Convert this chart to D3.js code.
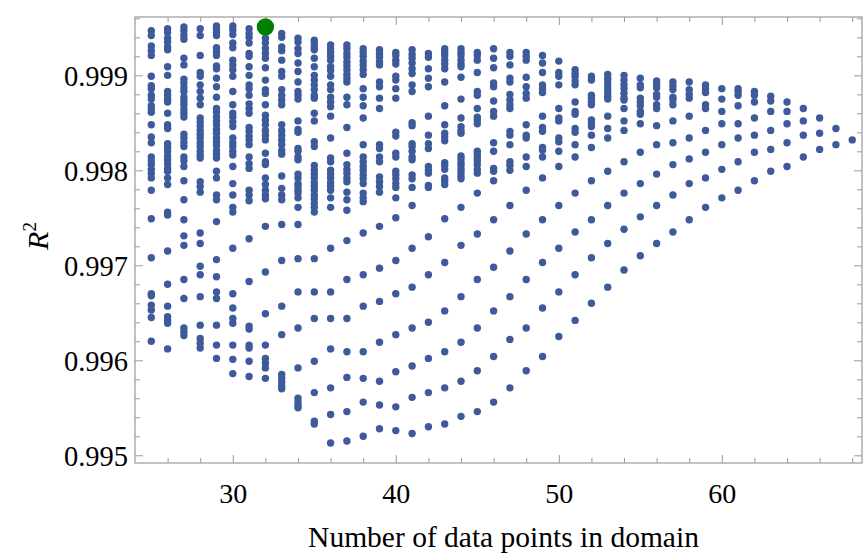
<!DOCTYPE html>
<html>
<head>
<meta charset="utf-8">
<script src="https://cdn.jsdelivr.net/npm/d3@7"></script>
<style>
  body { margin: 0; background: #fff; }
  svg { display: block; }
  .tick text { font-family: "Liberation Serif", "Times New Roman", serif; }
</style>
</head>
<body>
<div id="chart"></div>
<script>
// constants
const w = 863,
      h = 556,
      xLeft = 135,
      xRight = 862,
      yTop = 17,
      yBottom = 463;

// data: number of data points in domain, and the R^2 values found for each
const nValues = [25, 26, 27, 28, 29, 30, 31, 32, 33, 34, 35, 36, 37, 38, 39, 40, 41, 42, 43, 44, 45, 46,
                 47, 48, 49, 50, 51, 52, 53, 54, 55, 56, 57, 58, 59, 60, 61, 62, 63, 64, 65, 66, 67, 68];

const r2Columns = [
  [0.99947,0.99942,0.99931,0.99926,0.99921,0.99899,0.99889,0.99886,0.99879,0.99875,0.99868,0.99864,0.99861,0.99848,0.99835,0.99829,0.99814,0.99810,0.99806,0.99801,0.99797,0.99792,0.99779,0.99749,0.99708,0.99670,0.99668,0.99658,0.99653,0.99645,0.99620],
  [0.99949,0.99945,0.99939,0.99935,0.99930,0.99927,0.99909,0.99900,0.99883,0.99879,0.99875,0.99872,0.99860,0.99848,0.99844,0.99828,0.99824,0.99820,0.99815,0.99811,0.99807,0.99802,0.99799,0.99792,0.99785,0.99756,0.99753,0.99715,0.99680,0.99657,0.99646,0.99642,0.99639,0.99612],
  [0.99951,0.99947,0.99942,0.99938,0.99918,0.99911,0.99896,0.99892,0.99887,0.99883,0.99877,0.99873,0.99869,0.99864,0.99860,0.99856,0.99838,0.99834,0.99829,0.99825,0.99814,0.99810,0.99804,0.99789,0.99769,0.99748,0.99731,0.99721,0.99685,0.99665,0.99634,0.99630,0.99626],
  [0.99949,0.99942,0.99921,0.99903,0.99899,0.99890,0.99883,0.99876,0.99869,0.99855,0.99851,0.99847,0.99842,0.99838,0.99834,0.99829,0.99825,0.99820,0.99816,0.99813,0.99788,0.99783,0.99777,0.99734,0.99723,0.99699,0.99690,0.99667,0.99637,0.99623,0.99618,0.99613],
  [0.99952,0.99949,0.99945,0.99942,0.99929,0.99925,0.99921,0.99910,0.99907,0.99897,0.99888,0.99877,0.99865,0.99861,0.99856,0.99852,0.99848,0.99843,0.99839,0.99834,0.99830,0.99826,0.99821,0.99817,0.99813,0.99799,0.99792,0.99774,0.99769,0.99746,0.99706,0.99688,0.99672,0.99665,0.99637,0.99616,0.99602],
  [0.99952,0.99948,0.99943,0.99934,0.99929,0.99916,0.99911,0.99906,0.99899,0.99883,0.99869,0.99860,0.99856,0.99851,0.99846,0.99834,0.99829,0.99825,0.99820,0.99816,0.99804,0.99786,0.99774,0.99761,0.99756,0.99718,0.99670,0.99655,0.99644,0.99639,0.99616,0.99601,0.99586],
  [0.99949,0.99944,0.99940,0.99934,0.99923,0.99920,0.99909,0.99900,0.99890,0.99886,0.99879,0.99870,0.99865,0.99860,0.99845,0.99841,0.99836,0.99832,0.99827,0.99814,0.99807,0.99802,0.99779,0.99774,0.99768,0.99728,0.99683,0.99636,0.99633,0.99616,0.99613,0.99599,0.99583],
  [0.99939,0.99934,0.99928,0.99923,0.99918,0.99908,0.99895,0.99885,0.99881,0.99869,0.99858,0.99853,0.99848,0.99842,0.99837,0.99832,0.99818,0.99809,0.99806,0.99792,0.99785,0.99779,0.99774,0.99770,0.99741,0.99693,0.99649,0.99616,0.99602,0.99597,0.99592,0.99581],
  [0.99944,0.99940,0.99930,0.99926,0.99916,0.99904,0.99899,0.99885,0.99879,0.99874,0.99869,0.99848,0.99842,0.99837,0.99832,0.99827,0.99821,0.99817,0.99794,0.99781,0.99774,0.99769,0.99743,0.99705,0.99657,0.99627,0.99585,0.99581,0.99577,0.99573,0.99570],
  [0.99939,0.99935,0.99928,0.99923,0.99913,0.99904,0.99893,0.99883,0.99879,0.99875,0.99852,0.99843,0.99840,0.99823,0.99820,0.99814,0.99811,0.99796,0.99792,0.99786,0.99783,0.99779,0.99776,0.99771,0.99761,0.99743,0.99707,0.99672,0.99634,0.99592,0.99560,0.99556,0.99553,0.99550],
  [0.99937,0.99934,0.99930,0.99927,0.99918,0.99909,0.99900,0.99895,0.99890,0.99885,0.99879,0.99876,0.99860,0.99852,0.99830,0.99825,0.99805,0.99800,0.99796,0.99792,0.99787,0.99783,0.99779,0.99774,0.99770,0.99765,0.99761,0.99756,0.99707,0.99672,0.99644,0.99599,0.99566,0.99536,0.99533],
  [0.99932,0.99928,0.99924,0.99920,0.99916,0.99909,0.99905,0.99899,0.99890,0.99885,0.99877,0.99872,0.99867,0.99857,0.99834,0.99813,0.99809,0.99800,0.99796,0.99792,0.99787,0.99783,0.99779,0.99771,0.99761,0.99718,0.99672,0.99644,0.99612,0.99571,0.99543,0.99513],
  [0.99932,0.99928,0.99923,0.99919,0.99914,0.99910,0.99906,0.99901,0.99897,0.99893,0.99877,0.99869,0.99845,0.99818,0.99806,0.99801,0.99797,0.99792,0.99788,0.99777,0.99769,0.99758,0.99726,0.99685,0.99644,0.99609,0.99582,0.99546,0.99515],
  [0.99928,0.99924,0.99920,0.99915,0.99911,0.99906,0.99901,0.99886,0.99877,0.99868,0.99855,0.99827,0.99814,0.99809,0.99804,0.99800,0.99795,0.99791,0.99786,0.99776,0.99771,0.99767,0.99734,0.99690,0.99657,0.99609,0.99581,0.99556,0.99520],
  [0.99927,0.99923,0.99919,0.99914,0.99911,0.99893,0.99888,0.99876,0.99865,0.99827,0.99823,0.99814,0.99809,0.99793,0.99788,0.99783,0.99777,0.99741,0.99697,0.99662,0.99619,0.99578,0.99553,0.99528],
  [0.99924,0.99921,0.99916,0.99912,0.99899,0.99895,0.99886,0.99876,0.99840,0.99836,0.99818,0.99814,0.99799,0.99795,0.99791,0.99786,0.99782,0.99771,0.99750,0.99705,0.99670,0.99627,0.99588,0.99551,0.99526],
  [0.99927,0.99922,0.99918,0.99913,0.99907,0.99902,0.99890,0.99883,0.99850,0.99847,0.99828,0.99825,0.99820,0.99814,0.99811,0.99795,0.99791,0.99782,0.99763,0.99718,0.99677,0.99634,0.99594,0.99561,0.99523],
  [0.99923,0.99919,0.99907,0.99897,0.99888,0.99857,0.99837,0.99828,0.99823,0.99804,0.99800,0.99797,0.99784,0.99782,0.99730,0.99690,0.99640,0.99602,0.99566,0.99530],
  [0.99928,0.99924,0.99921,0.99916,0.99912,0.99907,0.99893,0.99868,0.99848,0.99839,0.99835,0.99831,0.99808,0.99805,0.99801,0.99792,0.99789,0.99785,0.99749,0.99703,0.99652,0.99609,0.99571,0.99533],
  [0.99928,0.99924,0.99921,0.99916,0.99912,0.99909,0.99898,0.99875,0.99855,0.99846,0.99842,0.99839,0.99815,0.99812,0.99808,0.99805,0.99801,0.99798,0.99794,0.99791,0.99761,0.99721,0.99667,0.99619,0.99578,0.99541],
  [0.99924,0.99921,0.99916,0.99903,0.99883,0.99879,0.99865,0.99856,0.99853,0.99849,0.99820,0.99817,0.99813,0.99810,0.99806,0.99801,0.99797,0.99776,0.99733,0.99685,0.99634,0.99589,0.99546],
  [0.99928,0.99918,0.99908,0.99892,0.99888,0.99873,0.99862,0.99857,0.99829,0.99820,0.99802,0.99799,0.99789,0.99748,0.99698,0.99652,0.99604,0.99556],
  [0.99924,0.99920,0.99911,0.99897,0.99893,0.99880,0.99874,0.99869,0.99865,0.99841,0.99837,0.99827,0.99809,0.99805,0.99800,0.99763,0.99715,0.99667,0.99622,0.99571],
  [0.99924,0.99920,0.99916,0.99898,0.99888,0.99881,0.99876,0.99848,0.99837,0.99834,0.99814,0.99804,0.99779,0.99733,0.99685,0.99634,0.99589],
  [0.99921,0.99913,0.99903,0.99890,0.99886,0.99882,0.99857,0.99845,0.99841,0.99824,0.99821,0.99814,0.99792,0.99748,0.99703,0.99655,0.99604],
  [0.99915,0.99903,0.99899,0.99890,0.99865,0.99855,0.99852,0.99834,0.99830,0.99820,0.99804,0.99763,0.99718,0.99672,0.99625],
  [0.99906,0.99902,0.99899,0.99894,0.99890,0.99872,0.99862,0.99859,0.99844,0.99840,0.99827,0.99814,0.99776,0.99735,0.99690,0.99642],
  [0.99899,0.99895,0.99879,0.99876,0.99872,0.99869,0.99853,0.99849,0.99846,0.99837,0.99824,0.99789,0.99748,0.99708,0.99660],
  [0.99901,0.99897,0.99894,0.99890,0.99886,0.99882,0.99878,0.99875,0.99857,0.99844,0.99834,0.99799,0.99763,0.99723,0.99677],
  [0.99900,0.99895,0.99890,0.99886,0.99881,0.99876,0.99874,0.99865,0.99852,0.99842,0.99809,0.99776,0.99738,0.99695],
  [0.99897,0.99890,0.99887,0.99876,0.99872,0.99868,0.99862,0.99859,0.99849,0.99819,0.99786,0.99751,0.99710],
  [0.99894,0.99890,0.99887,0.99880,0.99877,0.99869,0.99865,0.99847,0.99827,0.99796,0.99763,0.99723],
  [0.99893,0.99889,0.99885,0.99877,0.99874,0.99869,0.99852,0.99829,0.99806,0.99774,0.99735],
  [0.99893,0.99885,0.99880,0.99876,0.99857,0.99834,0.99812,0.99786,0.99748],
  [0.99890,0.99886,0.99882,0.99869,0.99865,0.99842,0.99819,0.99792,0.99761],
  [0.99886,0.99875,0.99862,0.99849,0.99827,0.99801,0.99771],
  [0.99886,0.99883,0.99879,0.99868,0.99849,0.99834,0.99809,0.99779],
  [0.99883,0.99879,0.99872,0.99855,0.99837,0.99819,0.99789],
  [0.99878,0.99873,0.99862,0.99842,0.99822,0.99799],
  [0.99872,0.99862,0.99849,0.99829,0.99804],
  [0.99865,0.99852,0.99837,0.99814],
  [0.99855,0.99839,0.99822],
  [0.99844,0.99827],
  [0.99832]
];

// the best point, drawn in green
const bestN = 32,
      bestR2 = 0.99951;

// ticks
const xMajor = [30, 40, 50, 60],
      xMinor = [26, 28, 32, 34, 36, 38, 42, 44, 46, 48, 52, 54, 56, 58, 62, 64, 66, 68],
      yMajor = [0.995, 0.996, 0.997, 0.998, 0.999],
      yMinor = [0.9952, 0.9954, 0.9956, 0.9958, 0.9962, 0.9964, 0.9966, 0.9968, 0.9972, 0.9974,
                0.9976, 0.9978, 0.9982, 0.9984, 0.9986, 0.9988, 0.9992, 0.9994, 0.9996];

let chart = d3.select("#chart")
              .append("svg")
              .attr("width", w)
              .attr("height", h);

let xScale = d3.scaleLinear()
               .domain([24, 68.6])
               .range([xLeft, xRight]);
let yScale = d3.scaleLinear()
               .domain([0.994919, 0.999614])
               .range([yBottom, yTop]);

// frame ticks, all pointing inwards
function frameAxis(axis, values, size, tx, ty, labels) {
  let g = chart.append("g")
               .attr("transform", `translate(${tx}, ${ty})`)
               .call(axis.tickValues(values)
                         .tickSize(-size)
                         .tickPadding(8)
                         .tickFormat(labels ? labels : ""));
  g.select(".domain").remove();
  g.selectAll(".tick line").attr("stroke", "#999");
  return g;
}

let xLab = frameAxis(d3.axisBottom(xScale), xMajor, 8, 0, yBottom, d3.format("d"));
frameAxis(d3.axisBottom(xScale), xMinor, 5, 0, yBottom, null);
frameAxis(d3.axisTop(xScale), xMajor, 8, 0, yTop, null);
frameAxis(d3.axisTop(xScale), xMinor, 5, 0, yTop, null);
let yLab = frameAxis(d3.axisLeft(yScale), yMajor, 8, xLeft, 0, d3.format(".3f"));
frameAxis(d3.axisLeft(yScale), yMinor, 5, xLeft, 0, null);
frameAxis(d3.axisRight(yScale), yMajor, 8, xRight, 0, null);
frameAxis(d3.axisRight(yScale), yMinor, 5, xRight, 0, null);

xLab.selectAll(".tick text")
    .attr("font-size", 28)
    .attr("fill", "#000")
    .attr("dy", "0.9em")
    .attr("y", 15);
yLab.selectAll(".tick text")
    .attr("font-size", 28.5)
    .attr("fill", "#000")
    .attr("x", -7)
    .attr("dy", "0.35em");

// frame
chart.append("rect")
     .attr("x", xLeft)
     .attr("y", yTop)
     .attr("width", xRight - xLeft)
     .attr("height", yBottom - yTop)
     .attr("fill", "none")
     .attr("stroke", "#999")
     .attr("stroke-width", 1.2);

// points
let points = nValues.flatMap((n, i) => r2Columns[i].map((r) => ({ n: n, r: r })));

chart.append("g")
     .selectAll("circle")
     .data(points)
     .enter()
     .append("circle")
     .attr("cx", (d) => xScale(d.n))
     .attr("cy", (d) => yScale(d.r))
     .attr("r", 3.7)
     .attr("fill", "#3d5a9b");

chart.append("circle")
     .attr("cx", xScale(bestN))
     .attr("cy", yScale(bestR2))
     .attr("r", 8.7)
     .attr("fill", "#008000");

// axis titles
chart.append("text")
     .attr("x", (xLeft + xRight) / 2 + 5)
     .attr("y", 547)
     .attr("text-anchor", "middle")
     .attr("font-family", "Liberation Serif, serif")
     .attr("font-size", 29.5)
     .text("Number of data points in domain");

let yt = chart.append("text")
              .attr("transform", "translate(48, 236) rotate(-90)")
              .attr("text-anchor", "middle")
              .attr("font-family", "Liberation Serif, serif")
              .attr("font-size", 30);
yt.append("tspan").attr("font-style", "italic").text("R");
yt.append("tspan").attr("font-size", 19).attr("dy", -12).text("2");
</script>
</body>
</html>
